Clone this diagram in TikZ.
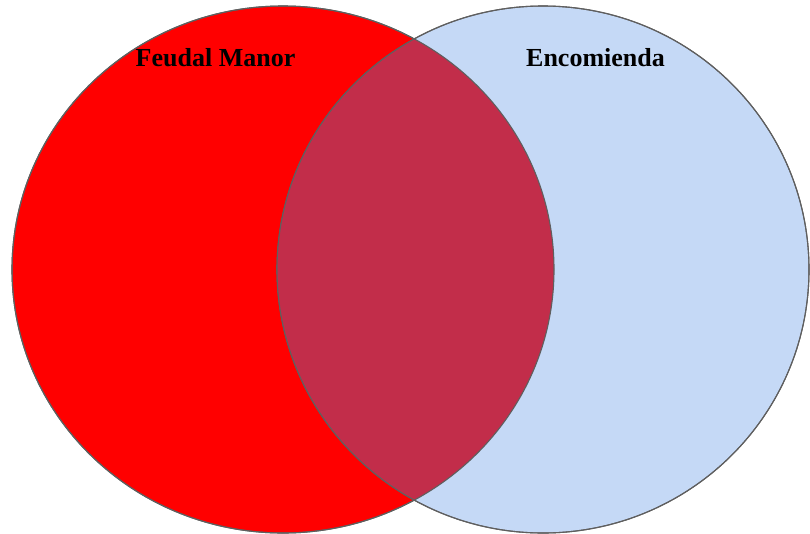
\documentclass[tikz,border=0pt]{standalone}
\usepackage{fontspec}
\setmainfont{Liberation Serif}
\usetikzlibrary{shapes.geometric}
\definecolor{manorred}{HTML}{FF0000}
\definecolor{encblue}{HTML}{C5D9F6}
\definecolor{overlap}{HTML}{C22D4A}
\definecolor{rim}{HTML}{5F5F5F}
\begin{document}
\begin{tikzpicture}[x=1pt,y=-1pt,
      every set/.style={ellipse,draw=rim,line width=1.1pt,inner sep=0pt},
      set label/.style={anchor=base,font=\fontsize{26}{30}\selectfont\bfseries}]
      \useasboundingbox (0,0) rectangle (810,533);
      \node[every set,fill=manorred,minimum width=542pt,minimum height=527pt] (manor) at (283,269.5) {};
      \node[every set,fill=encblue,minimum width=532pt,minimum height=527pt] (enco) at (543,269.5) {};
      \begin{scope}
        \clip (manor.center) ellipse [x radius=271pt,y radius=263.5pt];
        \fill[overlap] (enco.center) ellipse [x radius=266pt,y radius=263.5pt];
      \end{scope}
      \draw[rim,line width=1.1pt] (manor.center) ellipse [x radius=271pt,y radius=263.5pt];
      \draw[rim,line width=1.1pt] (enco.center) ellipse [x radius=266pt,y radius=263.5pt];
      \node[set label] (manor label) at (215.5,66.7) {Feudal Manor};
      \node[set label] (enco label) at (595.5,66.7) {Encomienda};
    \end{tikzpicture}
\end{document}
